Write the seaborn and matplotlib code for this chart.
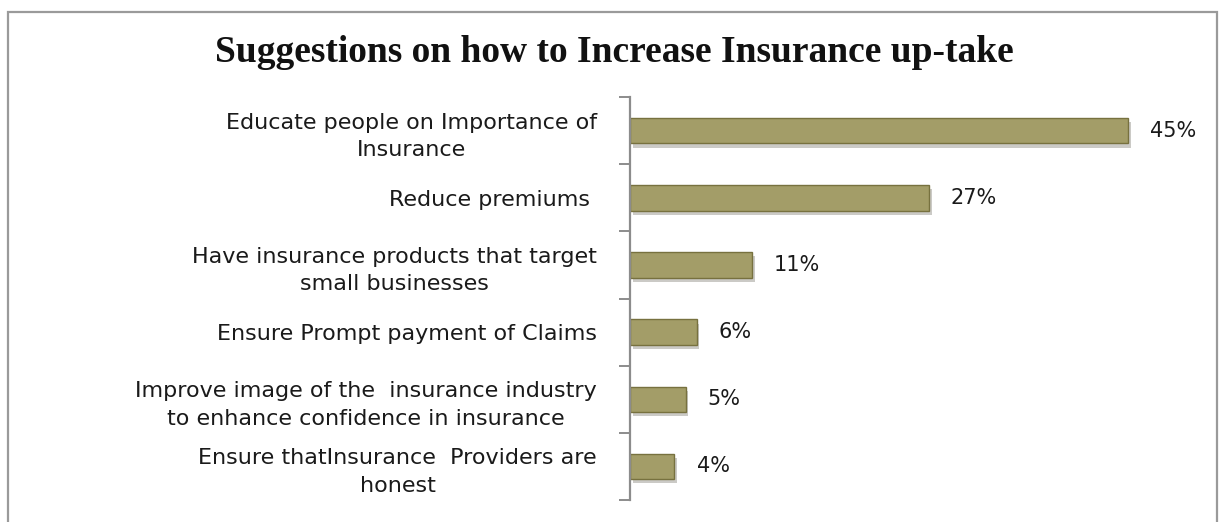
import matplotlib
matplotlib.use('Agg')
import matplotlib.pyplot as plt
import matplotlib.patheffects as pe
from matplotlib.patches import Rectangle
import seaborn as sns
import pandas as pd

# datos del grafico
sugerencias = [
    'Educate people on Importance of\nInsurance',
    'Reduce premiums ',
    'Have insurance products that target\nsmall businesses',
    'Ensure Prompt payment of Claims',
    'Improve image of the  insurance industry\nto enhance confidence in insurance',
    'Ensure thatInsurance  Providers are\nhonest',
]
porcentajes = [45, 27, 11, 6, 5, 4]
titulo = 'Suggestions on how to Increase Insurance up-take'

df = pd.DataFrame({'sugerencia': sugerencias, 'pct': porcentajes})

sns.set_style('white')
plt.rcParams['font.family'] = ['DejaVu Sans']

fig = plt.figure(figsize=(12.19, 5.22), dpi=100)
ax = fig.add_axes([0.517, 0.042, 0.4535, 0.772])

sns.barplot(data=df, x='pct', y='sugerencia', orient='h', ax=ax,
            color='#a39d68', edgecolor='#77713f', linewidth=1.0,
            width=0.38, saturation=1)

for p in ax.patches:
    p.set_path_effects([pe.SimplePatchShadow(offset=(2, -3), alpha=0.25),
                        pe.Normal()])

ax.bar_label(ax.containers[0], labels=[f'{v}%' for v in porcentajes],
             padding=16, fontsize=15, color='#1a1a1a')

ax.set_xlim(0, 50)
ax.set_ylim(len(sugerencias) - 0.5, -0.5)
ax.set_xlabel('')
ax.set_ylabel('')
ax.set_xticks([])

# etiquetas del eje y
ax.tick_params(axis='y', which='major', left=False, length=0, pad=24,
               labelsize=16, labelcolor='#1a1a1a')
for lbl in ax.get_yticklabels():
    lbl.set_multialignment('center')
    lbl.set_linespacing(1.45)
ax.set_yticks([i - 0.5 for i in range(len(sugerencias) + 1)], minor=True)
ax.tick_params(axis='y', which='minor', left=True, length=8, width=1.4,
               color='#8c8c8c', direction='out')

for s in ['top', 'right', 'bottom']:
    ax.spines[s].set_visible(False)
ax.spines['left'].set_color('#8c8c8c')
ax.spines['left'].set_linewidth(1.6)

fig.text(0.504, 0.9, titulo, ha='center', va='center', fontsize=27,
         fontweight='bold', family='Liberation Serif', color='#111111')

# marco del grafico
fig.patches.append(Rectangle((8 / 1219, -0.05), 1209 / 1219, 1.05 - 12 / 522,
                             transform=fig.transFigure, fill=False,
                             edgecolor='#9a9a9a', linewidth=1.6))

fig.savefig('out.png', dpi=100)
